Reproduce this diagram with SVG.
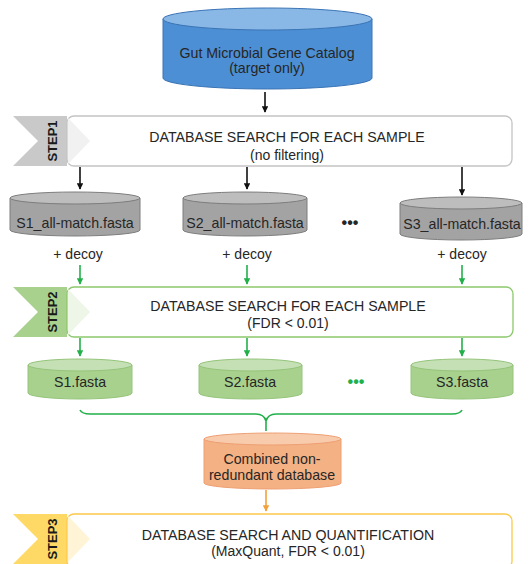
<svg xmlns="http://www.w3.org/2000/svg" width="531" height="564" viewBox="0 0 531 564">
<defs>
<style>
text{font-family:"Liberation Sans",Arial,sans-serif;fill:#262626;text-anchor:middle}
.t{font-size:14.2px}
.s{font-size:14px}
.step{font-size:13px;font-weight:bold;fill:#1a1a1a}
.ar{fill:none;stroke-width:1.6}
</style>
<marker id="mk" viewBox="0 0 10 10" refX="9" refY="5" markerWidth="4" markerHeight="4" orient="auto"><path d="M0,0L10,5L0,10z" fill="#111"/></marker>
<marker id="mg" viewBox="0 0 10 10" refX="9" refY="5" markerWidth="4" markerHeight="4" orient="auto"><path d="M0,0L10,5L0,10z" fill="#22b04a"/></marker>
<marker id="mo" viewBox="0 0 10 10" refX="9" refY="5" markerWidth="4" markerHeight="4" orient="auto"><path d="M0,0L10,5L0,10z" fill="#f4a03a"/></marker>
</defs>
<rect width="531" height="564" fill="#fff"/>

<g id="catalog">
<path d="M163,19 V78 A104.5,11 0 0 0 372,78 V19" fill="#4d8fd4" stroke="#3a74b5" stroke-width="1"/>
<ellipse cx="267.5" cy="19" rx="104.5" ry="11" fill="#8ab8e6" stroke="#3a74b5" stroke-width="1"/>
<text class="t" x="267" y="58">Gut Microbial Gene Catalog</text>
<text class="t" x="267" y="73">(target only)</text>
</g>

<g id="step1">
<path d="M13,116 H67 V166 H13 L38,141 Z" fill="#c9c9c9"/>
<rect x="67" y="116" width="445" height="50" rx="7" fill="#fff" stroke="#c4c4c4" stroke-width="1.3"/>
<path d="M68,118 L90,141 L68,164 Z" fill="#f1f1f1"/>
<text class="step" transform="translate(57,141) rotate(-90)">STEP1</text>
<text class="t" x="287" y="142">DATABASE SEARCH FOR EACH SAMPLE</text>
<text class="s" x="287" y="160">(no filtering)</text>
</g>

<g id="s1all">
<path d="M10,198 V230 A65,6 0 0 0 140,230 V198" fill="#a3a3a3" stroke="#7d7d7d"/>
<ellipse cx="75" cy="198" rx="65" ry="6" fill="#bdbdbd" stroke="#7d7d7d"/>
<text class="t" x="75" y="228">S1_all-match.fasta</text>
</g>
<g id="s2all">
<path d="M183,198 V230 A62,6 0 0 0 307,230 V198" fill="#a3a3a3" stroke="#7d7d7d"/>
<ellipse cx="245" cy="198" rx="62" ry="6" fill="#bdbdbd" stroke="#7d7d7d"/>
<text class="t" x="245" y="228">S2_all-match.fasta</text>
</g>
<g id="dots1"><text x="350" y="228" style="font-size:16px;font-weight:bold">•••</text></g>
<g id="s3all">
<path d="M400,203 V234 A61,6 0 0 0 522,234 V203" fill="#a3a3a3" stroke="#7d7d7d"/>
<ellipse cx="461" cy="203" rx="61" ry="6" fill="#bdbdbd" stroke="#7d7d7d"/>
<text class="t" x="462" y="229">S3_all-match.fasta</text>
</g>
<g id="decoy">
<text class="s" x="78" y="259">+ decoy</text>
<text class="s" x="247" y="259">+ decoy</text>
<text class="s" x="462" y="259">+ decoy</text>
</g>

<g id="step2">
<path d="M13,287 H67 V337 H13 L38,312 Z" fill="#a9d18e"/>
<rect x="67" y="287" width="446" height="50" rx="7" fill="#fff" stroke="#8cc96c" stroke-width="1.3"/>
<path d="M68,289 L90,312 L68,335 Z" fill="#eef6e8"/>
<text class="step" transform="translate(57,312) rotate(-90)">STEP2</text>
<text class="t" x="288" y="311">DATABASE SEARCH FOR EACH SAMPLE</text>
<text class="s" x="288" y="328">(FDR &lt; 0.01)</text>
</g>

<g id="s1">
<path d="M28,365 V393 A52,6 0 0 0 132,393 V365" fill="#a9d18e" stroke="#94c47a"/>
<ellipse cx="80" cy="365" rx="52" ry="6" fill="#c5e0b4" stroke="#94c47a"/>
<text class="t" x="80" y="387">S1.fasta</text>
</g>
<g id="s2">
<path d="M199,365 V393 A51.5,6 0 0 0 302,393 V365" fill="#a9d18e" stroke="#94c47a"/>
<ellipse cx="250.5" cy="365" rx="51.5" ry="6" fill="#c5e0b4" stroke="#94c47a"/>
<text class="t" x="250" y="387">S2.fasta</text>
</g>
<g id="dots2"><text x="356" y="387" style="font-size:16px;font-weight:bold;fill:#22b04a">•••</text></g>
<g id="s3">
<path d="M411,365 V393 A51,6 0 0 0 513,393 V365" fill="#a9d18e" stroke="#94c47a"/>
<ellipse cx="462" cy="365" rx="51" ry="6" fill="#c5e0b4" stroke="#94c47a"/>
<text class="t" x="462" y="387">S3.fasta</text>
</g>

<g id="combined">
<path d="M204,439 V483 A68.5,6 0 0 0 341,483 V439" fill="#f4b183" stroke="#ee9f73"/>
<ellipse cx="272.5" cy="439" rx="68.5" ry="6" fill="#f8cbad" stroke="#ee9f73"/>
<text class="t" x="272" y="464">Combined non-</text>
<text class="t" x="272" y="480">redundant database</text>
</g>

<g id="step3">
<path d="M13,514 H67 V564 H13 L38,539 Z" fill="#ffd966"/>
<rect x="67" y="514" width="445" height="54" rx="7" fill="#fff" stroke="#fcc94a" stroke-width="1.3"/>
<path d="M68,516 L90,539 L68,562 Z" fill="#fff4d6"/>
<text class="step" transform="translate(57,539) rotate(-90)">STEP3</text>
<text class="t" x="288" y="540">DATABASE SEARCH AND QUANTIFICATION</text>
<text class="s" x="288" y="556">(MaxQuant, FDR &lt; 0.01)</text>
</g>

<g id="connectors">
<path class="ar" d="M265,92 V112" stroke="#111" marker-end="url(#mk)"/>
<path class="ar" d="M80,167 V189" stroke="#111" marker-end="url(#mk)"/>
<path class="ar" d="M247,167 V189" stroke="#111" marker-end="url(#mk)"/>
<path class="ar" d="M462,167 V195" stroke="#111" marker-end="url(#mk)"/>
<path class="ar" d="M80,265 V284" stroke="#22b04a" marker-end="url(#mg)"/>
<path class="ar" d="M247,265 V284" stroke="#22b04a" marker-end="url(#mg)"/>
<path class="ar" d="M462,265 V284" stroke="#22b04a" marker-end="url(#mg)"/>
<path class="ar" d="M80,338 V356" stroke="#22b04a" marker-end="url(#mg)"/>
<path class="ar" d="M247,338 V356" stroke="#22b04a" marker-end="url(#mg)"/>
<path class="ar" d="M462,338 V356" stroke="#22b04a" marker-end="url(#mg)"/>
<path d="M80,410 Q82,414 90,414 H256 Q264,414 266,421 Q268,414 276,414 H452 Q460,414 462,410 M266,421 V431" fill="none" stroke="#22b04a" stroke-width="1.6"/>
<path class="ar" d="M266,490 V511" stroke="#f4a03a" marker-end="url(#mo)"/>
</g>
</svg>
